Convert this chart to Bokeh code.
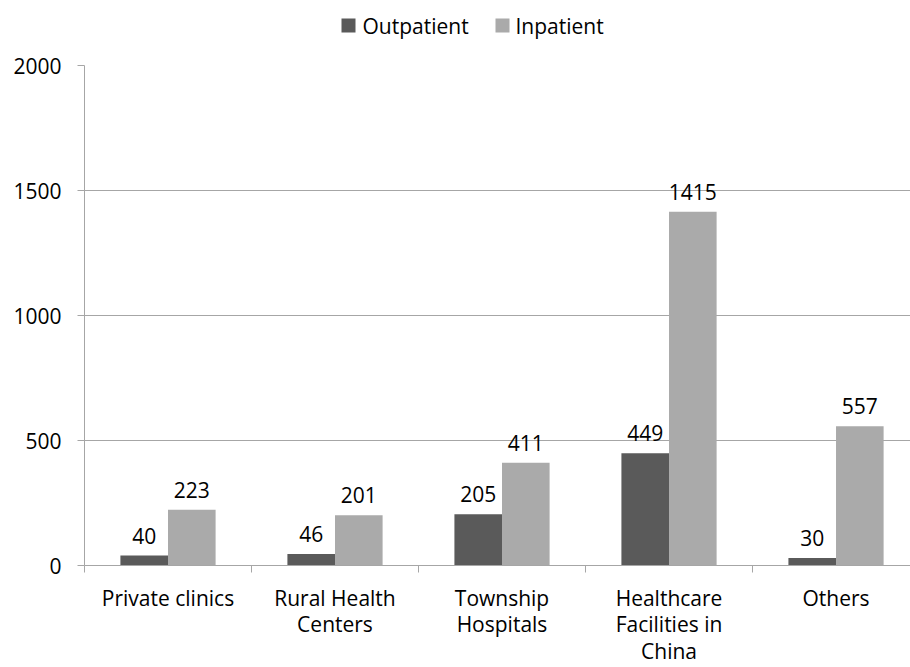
from bokeh.plotting import figure
from bokeh.models import ColumnDataSource, Range1d, FixedTicker, LabelSet
from bokeh.transform import dodge
from bokeh.core.properties import value
from bokeh.layouts import column
from bokeh.embed import file_html
from bokeh.resources import INLINE

categories = ["Private clinics", "Rural Health\nCenters", "Township\nHospitals",
              "Healthcare\nFacilities in\nChina", "Others"]
series_names = ["Outpatient", "Inpatient"]
outpatient = [40, 46, 205, 449, 30]
inpatient = [223, 201, 411, 1415, 557]
y_ticks = [0, 500, 1000, 1500, 2000]

FONT = "Open Sans"
FS = "21px"
DARK = "#5a5a5a"
LIGHT = "#aaaaaa"
GRID = "#a6a6a6"

centers = [i + 0.5 for i in range(len(categories))]
src = ColumnDataSource(dict(x=centers, out=outpatient, inp=inpatient,
                            out_s=[str(v) for v in outpatient],
                            inp_s=[str(v) for v in inpatient]))

# ---- legend strip on top (frame aligned with the chart: pixels 84..910) ----
leg = figure(width=910, height=53, output_backend="svg", toolbar_location=None,
             x_range=Range1d(84, 910), y_range=Range1d(0, 53),
             x_axis_type=None, y_axis_type=None, min_border=0)
leg.outline_line_color = None
leg.grid.grid_line_color = None
leg_src = ColumnDataSource(dict(sx=[348, 502], tx=[362, 515], y=[28, 28],
                                color=[DARK, LIGHT], label=series_names))
leg.rect(x="sx", y="y", width=14, height=14, source=leg_src,
         fill_color="color", line_color=None)
leg.text(x="tx", y="y", text="label", source=leg_src, text_baseline="middle",
         text_align="left", text_font=value(FONT), text_font_size=value(FS),
         text_color="black")

# ---- main chart ----
p = figure(width=910, height=614, output_backend="svg", toolbar_location=None,
           x_range=Range1d(0, 4.946), y_range=Range1d(0, 2000),
           min_border_left=84, min_border_right=0, min_border_top=12,
           min_border_bottom=100)
p.outline_line_color = None
p.background_fill_color = "white"

bw = 0.285
p.vbar(x=dodge("x", -bw / 2, range=p.x_range), top="out", width=bw, source=src,
       fill_color=DARK, line_color=None)
p.vbar(x=dodge("x", bw / 2, range=p.x_range), top="inp", width=bw, source=src,
       fill_color=LIGHT, line_color=None)

for col, lab, off in (("out", "out_s", -bw / 2), ("inp", "inp_s", bw / 2)):
    ls = LabelSet(x=dodge("x", off, range=p.x_range), y=col, text=lab, source=src,
                  text_align="center", text_baseline="alphabetic", y_offset=12,
                  text_font=value(FONT), text_font_size=value(FS), text_color="black")
    p.add_layout(ls)

# y axis
p.yaxis.ticker = FixedTicker(ticks=y_ticks)
p.yaxis.axis_line_color = GRID
p.yaxis.major_tick_line_color = GRID
p.yaxis.major_tick_out = 7
p.yaxis.major_tick_in = 0
p.yaxis.minor_tick_line_color = None
p.yaxis.major_label_standoff = 16
p.yaxis.major_label_text_font = FONT
p.yaxis.major_label_text_font_size = FS
p.yaxis.major_label_text_color = "black"

# x axis: labels at category centres, tick marks between categories
p.xaxis.ticker = FixedTicker(ticks=centers, minor_ticks=[0, 1, 2, 3, 4, 5])
p.xaxis.major_label_overrides = {c: lab for c, lab in zip(centers, categories)}
p.xaxis.axis_line_color = GRID
p.xaxis.major_tick_line_color = None
p.xaxis.major_tick_out = 0
p.xaxis.major_tick_in = 0
p.xaxis.minor_tick_line_color = GRID
p.xaxis.minor_tick_out = 7
p.xaxis.minor_tick_in = 0
p.xaxis.major_label_standoff = 11
p.xaxis.major_label_text_font = FONT
p.xaxis.major_label_text_font_size = FS
p.xaxis.major_label_text_color = "black"
p.xaxis.major_label_text_line_height = 0.95

p.xgrid.grid_line_color = None
p.ygrid.ticker = FixedTicker(ticks=y_ticks)
p.ygrid.grid_line_color = GRID

layout = column(leg, p, spacing=0)
html = file_html(layout, INLINE)
open("out.html", "w").write(html)
